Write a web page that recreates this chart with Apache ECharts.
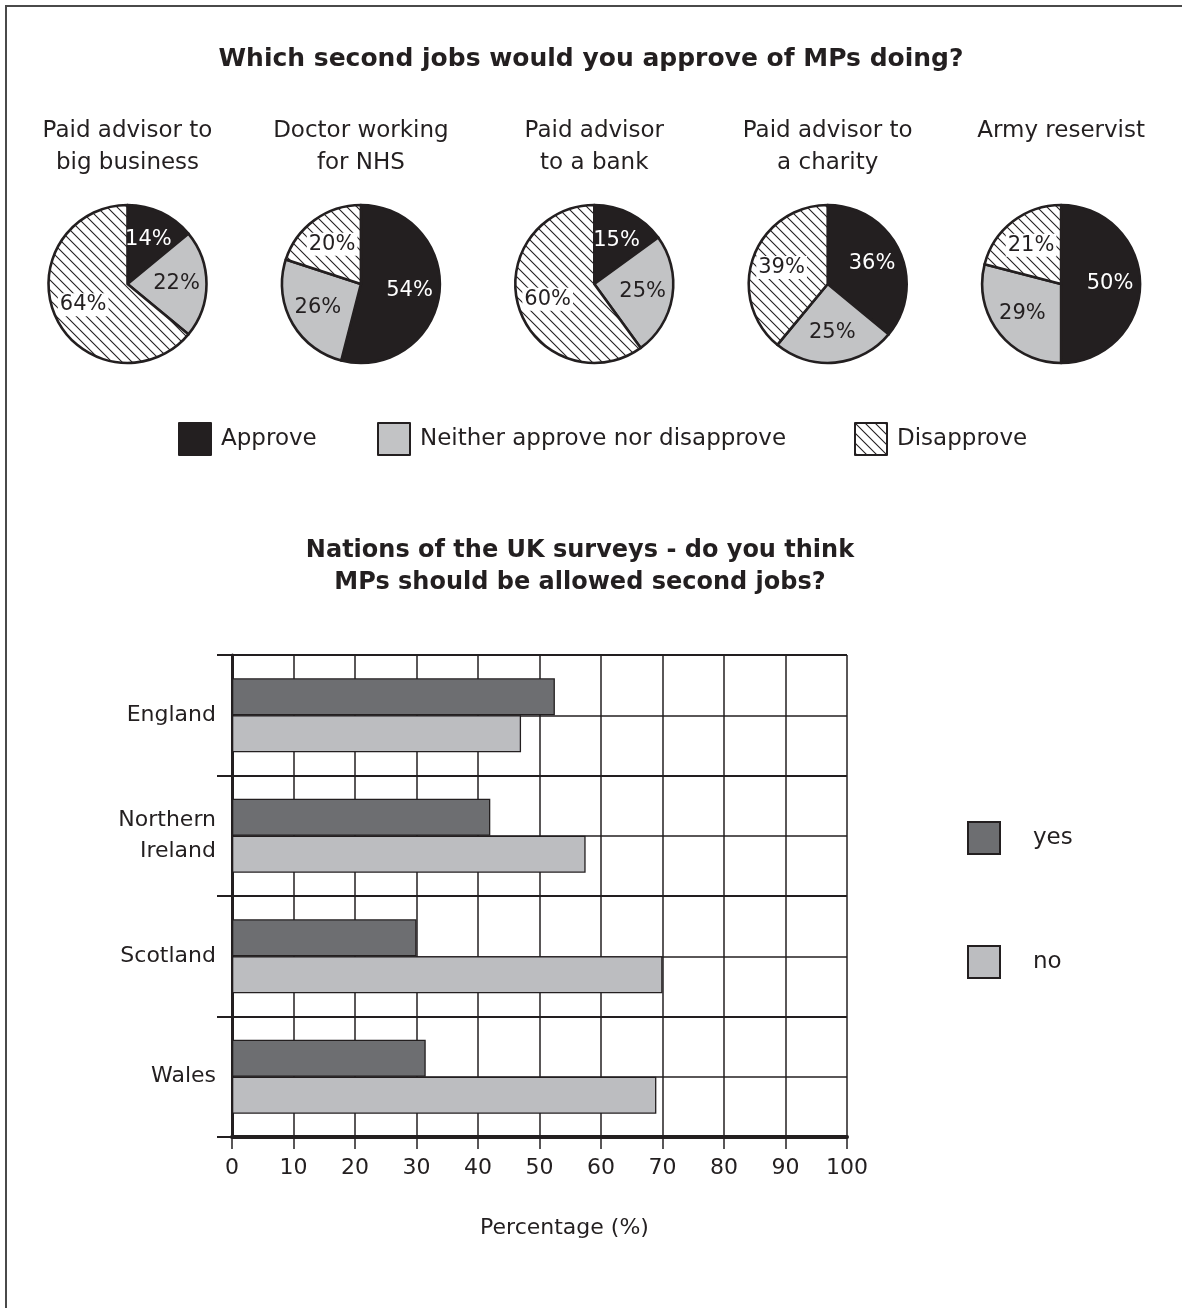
<!DOCTYPE html>
<html>
<head>
<meta charset="utf-8">
<script src="https://cdn.jsdelivr.net/npm/echarts@6/dist/echarts.min.js"></script>
<style>
html,body{margin:0;padding:0;background:#fff;}
#c{width:1182px;height:1308px;}
</style>
</head>
<body>
<div id="c"></div>
<script>
// ---------- data ----------
const mainTitle = 'Which second jobs would you approve of MPs doing?';
const pieTitles = ['Paid advisor to\nbig business', 'Doctor working\nfor NHS', 'Paid advisor\nto a bank', 'Paid advisor to\na charity', 'Army reservist'];
const pieCategories = ['Approve', 'Neither approve nor disapprove', 'Disapprove'];
const approveValues = [14, 54, 15, 36, 50];
const neitherValues = [22, 26, 25, 25, 29];
const disapproveValues = [64, 20, 60, 39, 21];

const barTitle = 'Nations of the UK surveys - do you think\nMPs should be allowed second jobs?';
const nations = ['England', 'Northern\nIreland', 'Scotland', 'Wales'];
const barSeriesNames = ['yes', 'no'];
const yesValues = [52.5, 42, 30, 31.5];
const noValues = [47, 57.5, 70, 69];
const xAxisName = 'Percentage (%)';
const xMin = 0, xMax = 100, xStep = 10;

// ---------- styles ----------
const INK = '#231f20';
const FONT = 'DejaVu Sans';

function makeHatch() {
  const s = 10;
  const cv = document.createElement('canvas');
  cv.width = s; cv.height = s;
  const ctx = cv.getContext('2d');
  ctx.fillStyle = '#ffffff';
  ctx.fillRect(0, 0, s, s);
  ctx.strokeStyle = INK;
  ctx.lineWidth = 1.1;
  ctx.beginPath();
  for (const k of [-1, 0, 1]) {
    ctx.moveTo(k * s - 1, -1);
    ctx.lineTo(k * s + s + 1, s + 1);
  }
  ctx.stroke();
  return cv;
}
const hatch = { image: makeHatch(), repeat: 'repeat' };
const sliceColors = [INK, '#c2c3c5', hatch];
const sliceLabelColors = ['#ffffff', INK, INK];

const pieCX = i => 127.5 + i * 233.4;
const pieCY = 284;
const pieR = 79;

const series = [];
// main pies
pieTitles.forEach((t, i) => {
  const vals = [approveValues[i], neitherValues[i], disapproveValues[i]];
  series.push({
    type: 'pie',
    center: [pieCX(i), pieCY],
    radius: pieR,
    startAngle: 90,
    clockwise: true,
    silent: true,
    avoidLabelOverlap: false,
    label: { show: false },
    labelLine: { show: false },
    emphasis: { disabled: true },
    itemStyle: { borderColor: INK, borderWidth: 2.6 },
    data: pieCategories.map((n, j) => ({ name: n, value: vals[j], itemStyle: { color: sliceColors[j] } }))
  });
});
// label overlays (transparent ring, so labels sit at ~0.58 R)
pieTitles.forEach((t, i) => {
  const vals = [approveValues[i], neitherValues[i], disapproveValues[i]];
  series.push({
    type: 'pie',
    center: [pieCX(i), pieCY],
    radius: [24, 68],
    startAngle: 90,
    clockwise: true,
    silent: true,
    avoidLabelOverlap: false,
    emphasis: { disabled: true },
    itemStyle: { color: 'rgba(0,0,0,0)', borderWidth: 0 },
    labelLine: { show: false },
    label: {
      show: true, position: 'inside', formatter: '{c}%',
      fontSize: 21, fontFamily: FONT
    },
    data: pieCategories.map((n, j) => ({
      name: n + ' ', value: vals[j],
      label: j === 2
        ? { color: sliceLabelColors[j], backgroundColor: '#ffffff', padding: [1, 2] }
        : { color: sliceLabelColors[j] }
    }))
  });
});
// bars
series.push({
  type: 'bar', name: barSeriesNames[0], xAxisIndex: 0, yAxisIndex: 0,
  data: yesValues, barWidth: 37, barGap: '0%', silent: true,
  itemStyle: { color: '#6d6e71', borderColor: INK, borderWidth: 1.3 }
});
series.push({
  type: 'bar', name: barSeriesNames[1], xAxisIndex: 0, yAxisIndex: 0,
  data: noValues, barWidth: 37, barGap: '0%', silent: true,
  itemStyle: { color: '#bcbdc0', borderColor: INK, borderWidth: 1.3 }
});

const legendCommon = {
  padding: 0, itemWidth: 32, itemHeight: 32, icon: 'rect', selectedMode: false,
  textStyle: { fontSize: 23, color: INK, fontFamily: FONT, padding: [0, 0, 0, 5] }
};

const option = {
  animation: false,
  backgroundColor: '#ffffff',
  textStyle: { fontFamily: FONT, color: INK },
  graphic: [{
    type: 'rect', silent: true, z: -10,
    shape: { x: 6, y: 6, width: 1500, height: 1500 },
    style: { fill: 'none', stroke: '#4a4a4a', lineWidth: 2 }
  }],
  title: [
    { text: mainTitle, left: 591, top: 47, textAlign: 'center', padding: 0,
      textStyle: { fontSize: 25, fontWeight: 'bold', color: INK, fontFamily: FONT } },
    ...pieTitles.map((t, i) => ({
      text: t, left: pieCX(i), top: 115, textAlign: 'center', padding: 0,
      textStyle: { fontSize: 23, fontWeight: 'normal', lineHeight: 32, color: INK, fontFamily: FONT }
    })),
    { text: barTitle, left: 580, top: 535, textAlign: 'center', padding: 0,
      textStyle: { fontSize: 24, fontWeight: 'bold', lineHeight: 32, color: INK, fontFamily: FONT } }
  ],
  legend: [
    Object.assign({}, legendCommon, { data: [pieCategories[0]], left: 178, top: 422 }),
    Object.assign({}, legendCommon, { data: [pieCategories[1]], left: 377, top: 422 }),
    Object.assign({}, legendCommon, { data: [pieCategories[2]], left: 854, top: 422 }),
    Object.assign({}, legendCommon, {
      data: barSeriesNames, orient: 'vertical', left: 967, top: 821, itemGap: 90,
      textStyle: { fontSize: 23, color: INK, fontFamily: FONT, padding: [0, 0, 0, 28] }
    })
  ],
  grid: { left: 232, right: 335, top: 655, bottom: 171 },
  xAxis: [{
    type: 'value', min: xMin, max: xMax, interval: xStep,
    axisLine: { show: true, lineStyle: { color: INK, width: 4 } },
    axisTick: { show: true, length: 12, lineStyle: { color: INK, width: 1.5 } },
    splitLine: { show: true, lineStyle: { color: INK, width: 1.5 } },
    axisLabel: { fontSize: 22, color: INK, fontFamily: FONT, margin: 20 },
    name: xAxisName, nameLocation: 'middle', nameGap: 80,
    nameTextStyle: { fontSize: 22, color: INK, fontFamily: FONT, padding: [0, 0, 0, 50] }
  }],
  yAxis: [{
    type: 'category', data: nations, inverse: true,
    axisLine: { show: true, lineStyle: { color: INK, width: 3 } },
    axisTick: { show: true, length: 15, lineStyle: { color: INK, width: 2 } },
    splitLine: { show: true, lineStyle: { color: INK, width: 2 } },
    axisLabel: { fontSize: 22, color: INK, fontFamily: FONT, margin: 16, lineHeight: 31, align: 'right' }
  }, {
    type: 'value', min: 0, max: 8, interval: 1, position: 'left',
    axisLine: { show: false }, axisTick: { show: false }, axisLabel: { show: false },
    splitLine: { show: true, lineStyle: { color: INK, width: 1.5 } }
  }],
  series: series
};

const chart = echarts.init(document.getElementById('c'), null, { renderer: 'canvas' });
chart.setOption(option);
</script>
</body>
</html>
